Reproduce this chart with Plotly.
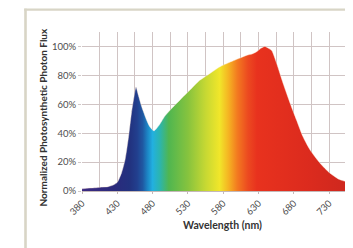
import plotly.graph_objects as go

# ---- data ----
wavelength_nm = [380, 390, 400, 410, 417, 425, 430, 436, 441, 446, 450, 454, 456.5, 460,
                 464.6, 471.6, 476, 482, 490, 497, 505, 519, 533, 547, 561, 575, 590,
                 604, 613, 622, 628, 633, 639, 645, 649, 656, 665, 675, 684, 693, 703,
                 717, 731, 745, 764, 775]
photon_flux = [0.015, 0.020, 0.023, 0.027, 0.030, 0.043, 0.060, 0.125, 0.216, 0.377, 0.537,
               0.66, 0.72, 0.66, 0.583, 0.49, 0.445, 0.416, 0.46, 0.515, 0.56, 0.63, 0.698,
               0.766, 0.812, 0.858, 0.892, 0.92, 0.938, 0.95, 0.965, 0.985, 1.00, 0.985,
               0.97, 0.88, 0.744, 0.606, 0.49, 0.377, 0.285, 0.194, 0.125, 0.079, 0.052, 0.04]
x_ticks = [380, 430, 480, 530, 580, 630, 680, 730]
y_ticks = [0, 0.2, 0.4, 0.6, 0.8, 1.0]
y_tick_text = ["0%", "20%", "40%", "60%", "80%", "100%"]

# ---- style ----
OFF = 8                      # default page body margin of the html page
W, H = 353 - OFF, 248 - OFF  # figure size so it fits the window
# plot area in window pixels
L, R, T, B = 82, 353, 31.5, 191.5
X0, X1 = 380, 764
Y0, Y1 = 0, 1.1

spec_stops = [(380, "#3c2a82"), (425, "#2b2a7c"), (448, "#22327f"), (458, "#223f8e"),
              (466, "#1f58a2"), (473, "#1c86c6"), (480, "#22b0e0"), (490, "#2bb5b0"),
              (503, "#50b650"), (530, "#86c33e"), (555, "#c6d833"), (575, "#f1e62a"),
              (588, "#f5b222"), (600, "#f37a20"), (615, "#ec4a20"), (628, "#e8321e"),
              (700, "#dc2b1e"), (780, "#c8261e")]
colorscale = [[(w - 380) / 400, c] for w, c in spec_stops]

# window pixel -> paper coordinate
def px(xp):
    return (xp - L) / (R - L)

def py(yp):
    return (B - yp) / (B - T)

grid = "#d0c4c4"
FONT = "Lato, Open Sans, sans-serif"
tick_font = dict(family=FONT, size=9.5, color="#4d4d4d")

fig = go.Figure()
fig.add_trace(go.Scatter(
    x=wavelength_nm, y=photon_flux, mode="lines",
    line=dict(width=0.6, color="rgba(255,235,220,0.7)", shape="spline", smoothing=0.6),
    fill="tozeroy",
    fillgradient=dict(type="horizontal", colorscale=colorscale, start=380, stop=780),
    hoverinfo="skip", showlegend=False,
))

fig.update_layout(
    width=W, height=H,
    margin=dict(l=L - OFF, r=0, t=T - OFF, b=(OFF + H) - B),
    paper_bgcolor="white", plot_bgcolor="white",
    xaxis=dict(range=[X0, X1], tickmode="array", tickvals=x_ticks,
               ticktext=[str(v) for v in x_ticks], tickangle=-45,
               tickfont=tick_font, showgrid=True, gridcolor=grid, gridwidth=1,
               minor=dict(dtick=25, tick0=380, showgrid=True, gridcolor=grid, gridwidth=1),
               zeroline=False, showline=True, linecolor="#c4b8b8", linewidth=1,
               ticks="outside", ticklen=2, tickcolor="#c4b8b8"),
    yaxis=dict(range=[Y0, Y1], tickmode="array", tickvals=y_ticks,
               ticktext=y_tick_text,
               tickfont=tick_font, showgrid=True, gridcolor=grid, gridwidth=1,
               zeroline=False, showline=False, ticks="outside", ticklen=3,
               tickcolor="#d0c8c8"),
)

# axis titles
fig.add_annotation(xref="paper", yref="paper", x=px(223), y=py(226),
                   xanchor="center", yanchor="middle",
                   text="<b>Wavelength (nm)</b>", showarrow=False,
                   font=dict(family=FONT, size=10.5, color="#333333"))
fig.add_annotation(xref="paper", yref="paper", x=px(34.5), y=py(118),
                   xanchor="left", yanchor="middle",
                   text="<b>Normalized Photosynthetic Photon Flux</b>", showarrow=False,
                   textangle=-90,
                   font=dict(family=FONT, size=10, color="#333333"))

# outer frame (top and left borders)
frame = "#d8d5c6"
fig.add_shape(type="line", xref="paper", yref="paper", x0=px(24.2), x1=px(360),
              y0=py(OFF + 1.0), y1=py(OFF + 1.0), line=dict(color=frame, width=2.4))
fig.add_shape(type="line", xref="paper", yref="paper", x0=px(25.5), x1=px(25.5),
              y0=py(OFF), y1=py(260), line=dict(color=frame, width=2.6))

fig.write_html("out.html")
